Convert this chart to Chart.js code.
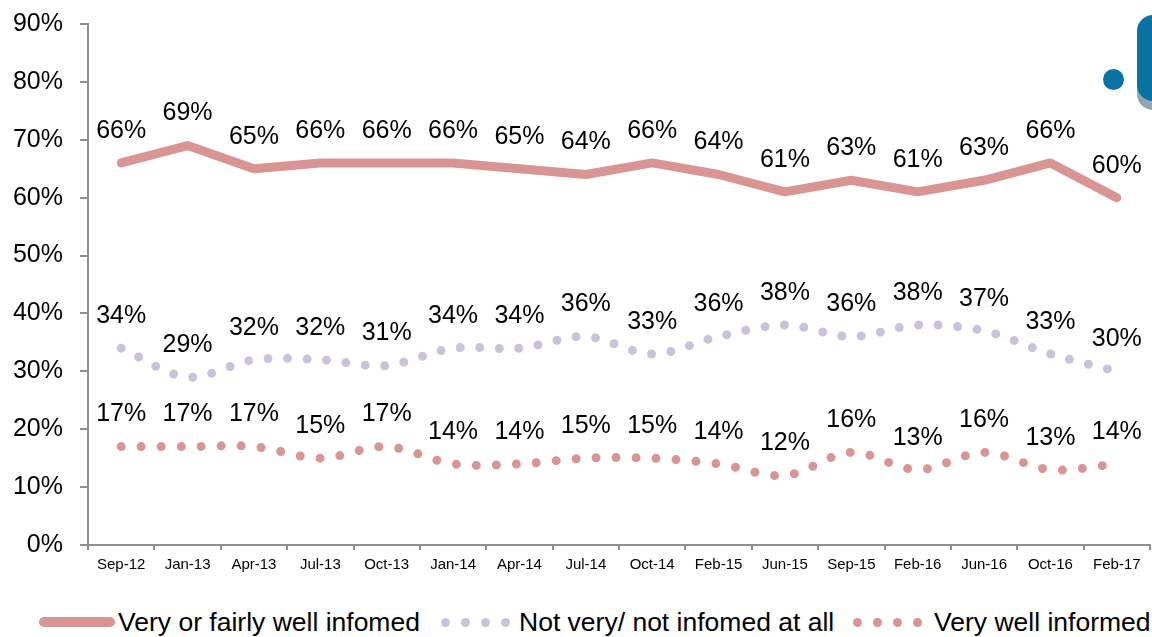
<!DOCTYPE html>
<html>
<head>
<meta charset="utf-8">
<script src="https://cdn.jsdelivr.net/npm/chart.js@4"></script>
<style>
  body { margin: 0; background: #fff; width: 1152px; height: 637px; overflow: hidden; position: relative; font-family: "Liberation Sans", Arial, sans-serif; }
  #chart { position: absolute; left: 0; top: 0; }
  .lg { position: absolute; }
  .lg-text { position: absolute; top: 606px; font-size: 26.5px; line-height: 32px; color: #000; white-space: nowrap; }
  .dot { position: absolute; width: 9px; height: 9px; border-radius: 50%; top: 618px; }
  #badge { position: absolute; left: 1137px; top: 15px; width: 40px; height: 86px; background: #0a72a2; border-radius: 16px; box-shadow: 0 9px 0 #91a6b3; }
  #badgeDot { position: absolute; left: 1103px; top: 69px; width: 21px; height: 21px; border-radius: 50%; background: #0a72a2; }
</style>
</head>
<body>
<canvas id="chart" width="1152" height="590"></canvas>
<div id="badge"></div>
<div id="badgeDot"></div>
<div id="legend"></div>
<script>
// data
const months = ['Sep-12', 'Jan-13', 'Apr-13', 'Jul-13', 'Oct-13', 'Jan-14', 'Apr-14', 'Jul-14',
                'Oct-14', 'Feb-15', 'Jun-15', 'Sep-15', 'Feb-16', 'Jun-16', 'Oct-16', 'Feb-17'];
const wellInformed = [66, 69, 65, 66, 66, 66, 65, 64, 66, 64, 61, 63, 61, 63, 66, 60];
const notInformed = [34, 29, 32, 32, 31, 34, 34, 36, 33, 36, 38, 36, 38, 37, 33, 30];
const veryWell = [17, 17, 17, 15, 17, 14, 14, 15, 15, 14, 12, 16, 13, 16, 13, 14];
const seriesNames = ['Very or fairly well infomed', 'Not very/ not infomed at all', 'Very well informed'];
const yTicks = [0, 10, 20, 30, 40, 50, 60, 70, 80, 90];

const pink = '#d99594';
const lilac = '#ccc1da';
const axisGrey = '#8f8f8f';

Chart.defaults.font.family = '"Liberation Sans", Arial, sans-serif';
Chart.defaults.color = '#000';

// labels above each point
const pointLabels = {
    id: 'pointLabels',
    afterDatasetsDraw(chart) {
        const ctx = chart.ctx;
        ctx.save();
        ctx.font = '25px "Liberation Sans", Arial, sans-serif';
        ctx.fillStyle = '#000';
        ctx.textAlign = 'center';
        ctx.textBaseline = 'middle';
        chart.data.datasets.forEach((ds, i) => {
            chart.getDatasetMeta(i).data.forEach((pt, j) => {
                ctx.fillText(ds.data[j] + '%', pt.x, pt.y - 32);
            });
        });
        ctx.restore();
    }
};

new Chart(document.getElementById('chart'), {
    type: 'line',
    data: {
        labels: months,
        datasets: [
            {
                label: seriesNames[0],
                data: wellInformed,
                borderColor: pink,
                borderWidth: 9,
                borderCapStyle: 'round',
                borderJoinStyle: 'round',
                tension: 0,
                pointRadius: 0
            },
            {
                label: seriesNames[1],
                data: notInformed,
                borderColor: lilac,
                borderWidth: 9,
                borderDash: [0, 19.5],
                borderCapStyle: 'round',
                tension: 0.33,
                pointRadius: 0
            },
            {
                label: seriesNames[2],
                data: veryWell,
                borderColor: pink,
                borderWidth: 9,
                borderDash: [0, 20],
                borderCapStyle: 'round',
                tension: 0.33,
                pointRadius: 0
            }
        ]
    },
    options: {
        responsive: false,
        animation: false,
        devicePixelRatio: 1,
        layout: { padding: { top: 24, right: 2, left: 0, bottom: 0 } },
        plugins: { legend: { display: false }, tooltip: { enabled: false } },
        scales: {
            x: {
                offset: true,
                grid: { offset: true, drawOnChartArea: false, color: axisGrey, lineWidth: 2, tickLength: 5 },
                border: { color: axisGrey, width: 2 },
                ticks: { font: { size: 15 }, padding: 6, maxRotation: 0, autoSkip: false },
                afterFit(scale) { scale.height = 45; }
            },
            y: {
                min: 0,
                max: 90,
                afterBuildTicks(scale) { scale.ticks = yTicks.map(v => ({ value: v })); },
                grid: { drawOnChartArea: false, color: axisGrey, lineWidth: 2, tickLength: 8 },
                border: { color: axisGrey, width: 2 },
                ticks: { font: { size: 25 }, padding: 17, callback: v => v + '%' },
                afterFit(scale) {
                    scale.width = 88;
                    scale.paddingTop = 0;
                    scale.paddingBottom = 0;
                }
            }
        }
    },
    plugins: [pointLabels]
});

// legend as html below the chart
const legend = document.getElementById('legend');
function addText(txt, left) {
    const s = document.createElement('span');
    s.className = 'lg-text';
    s.style.left = left + 'px';
    s.textContent = txt;
    legend.appendChild(s);
}
function addDots(color, firstCenter, gap) {
    for (let k = 0; k < 4; k++) {
        const d = document.createElement('span');
        d.className = 'dot';
        d.style.background = color;
        d.style.left = (firstCenter + k * gap - 4.5) + 'px';
        legend.appendChild(d);
    }
}
const solid = document.createElement('span');
solid.className = 'lg';
solid.style.cssText = 'left:39px;top:617px;width:76px;height:10px;border-radius:5px;background:' + pink;
legend.appendChild(solid);
addText(seriesNames[0], 118);
addDots(lilac, 445, 20);
addText(seriesNames[1], 519);
addDots(pink, 857, 20.3);
addText(seriesNames[2], 934);
</script>
</body>
</html>
